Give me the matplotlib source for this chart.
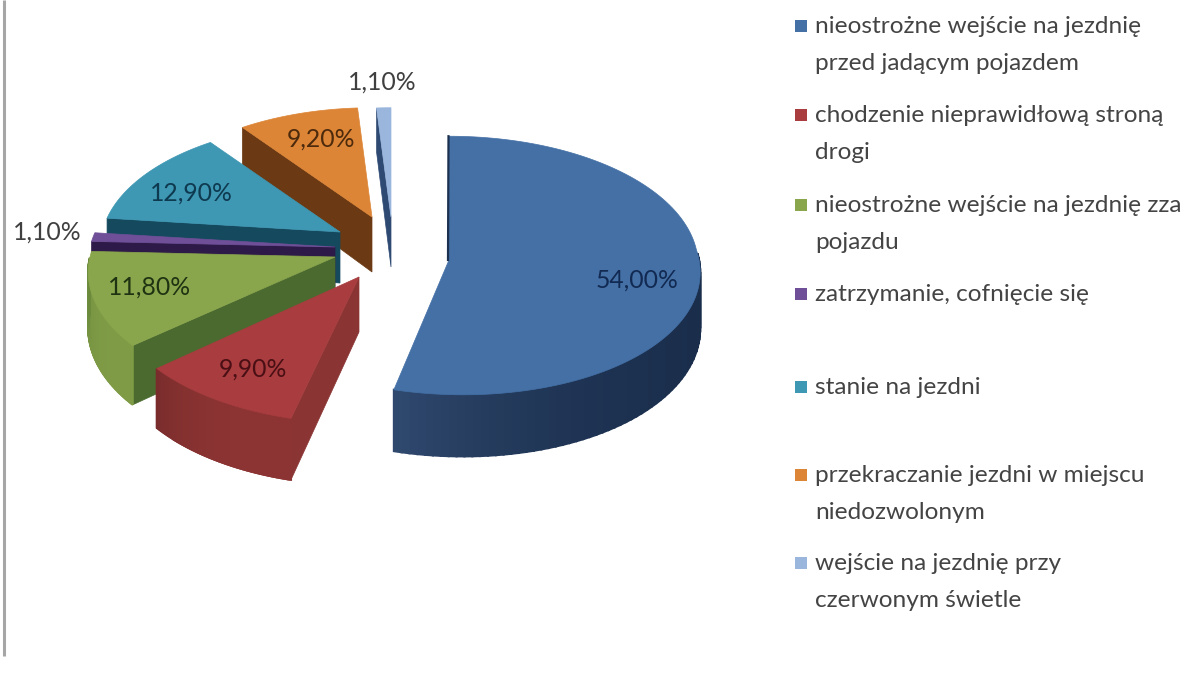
import numpy as np
import matplotlib
matplotlib.use("Agg")
import matplotlib.pyplot as plt
from matplotlib.patches import Rectangle
from matplotlib.colors import to_rgb

# dane wykresu
etykiety = ["nieostrożne wejście na jezdnię\nprzed jadącym pojazdem",
            "chodzenie nieprawidłową stroną\ndrogi",
            "nieostrożne wejście na jezdnię zza\npojazdu",
            "zatrzymanie, cofnięcie się",
            "stanie na jezdni",
            "przekraczanie jezdni w miejscu\nniedozwolonym",
            "wejście na jezdnię przy\nczerwonym świetle"]
wartosci = [54.0, 9.9, 11.8, 1.1, 12.9, 9.2, 1.1]

# kolory: wierzch, sciana (jasna, ciemna), przekroj, tekst
kol_gora = ["#4470a6", "#a83c3e", "#8aa64c", "#6f4f98", "#3e97b3", "#dd8536", "#9bb6dd"]
kol_sciana1 = ["#1a2e4c", "#8c3433", "#7f9b46", "#2e1a48", "#14495e", "#6e3a12", "#2a4468"]
kol_sciana2 = ["#30496f", "#7a2c2c", "#6a8a3c", "#2e1a48", "#14495e", "#6e3a12", "#2a4468"]
kol_przekroj = ["#1c3150", "#8a3433", "#4a6a30", "#2e1a48", "#14495e", "#6b3a14", "#2f4a72"]
kol_tekst = ["#122a52", "#4a0f14", "#1f3312", "#404040", "#0e3a50", "#4d2a0c", "#404040"]

# uklad w pikselach obrazka
wierzcholki = [(449, 260), (359, 277), (335, 257), (335, 247), (340, 232), (372, 217), (391, 217)]
srodki = [(449, 250), (359, 280), (335, 257), (335, 247), (340, 232), (372, 217), (391, 217)]
skale = [1.01, 1.0, 1.0, 1.0, 0.97, 0.97, 0.97]
glebokosci = [55, 55, 55, 50, 51, 55, 50]
przechyl = [14, 0, 0, 0, 0, 0, 0]
poz_opisow = [(637, 280), (253, 369), (149, 287), (47, 232), (191, 193), (321, 139), (382, 82)]
poz_legendy = [26, 115, 205, 294, 387, 475, 563]
RX, RY, P = 245, 128, 0.12


def brzeg(i, kat):
    # punkt na brzegu plasterka i jego lokalna glebokosc
    u, v = np.sin(kat), -np.cos(kat)
    f = (1 + P * v) * skale[i]
    x = srodki[i][0] + RX * u * f + przechyl[i] * np.maximum(v, 0)
    y = srodki[i][1] + RY * v * f
    return x, y, glebokosci[i] * (1 + P * v)


fig = plt.figure(figsize=(11.84, 6.79), dpi=100)
ax = fig.add_axes([0, 0, 1, 1])
ax.set_xlim(0, 1184)
ax.set_ylim(679, 0)
ax.axis("off")

# ramka z lewej
ax.plot([3.5, 3.5], [0, 656], color="#a6a6a6", lw=2.2, solid_capstyle="butt")

granice = np.cumsum([0] + wartosci) / 100 * 2 * np.pi

# od tylu do przodu
for i in [6, 5, 4, 3, 2, 1, 0]:
    a0, a1 = granice[i], granice[i + 1]
    tx, ty = wierzcholki[i]
    katy = np.linspace(a0, a1, 120)
    x, y, d = brzeg(i, katy)

    # przekroj od strony poczatku plasterka
    ax.fill([tx, x[0], x[0], tx], [ty, y[0], y[0] + d[0], ty + glebokosci[i]],
            color=kol_przekroj[i], lw=0.5, zorder=i * -3 + 30)

    # sciana zewnetrzna z gradientem
    w = np.where((katy >= np.pi / 2) & (katy <= 3 * np.pi / 2))[0]
    for n, k in zip(w[:-1], w[1:]):
        t = ((n - w[0]) / max(len(w) - 1, 1)) ** 3
        c = (1 - t) * np.array(to_rgb(kol_sciana1[i])) + t * np.array(to_rgb(kol_sciana2[i]))
        ax.fill([x[n], x[k], x[k], x[n]], [y[n], y[k], y[k] + d[k], y[n] + d[n]],
                color=c, lw=1.5, zorder=i * -3 + 31)

    # wierzch
    ax.fill(np.r_[tx, x], np.r_[ty, y], color=kol_gora[i], lw=0.5, zorder=i * -3 + 32)

    if i == 0:
        ax.plot([tx - 1, x[0] - 0.5], [ty, y[0]], color=kol_przekroj[0], lw=1.6, zorder=33)

# opisy wartosci
for i, v in enumerate(wartosci):
    ax.text(poz_opisow[i][0], poz_opisow[i][1], f"{v:.2f}".replace(".", ",") + "%",
            family="Lato", fontsize=17.8, color=kol_tekst[i], ha="center", va="center", zorder=50)

# legenda
for i, e in enumerate(etykiety):
    yl = poz_legendy[i]
    ax.add_patch(Rectangle((795, yl - 6), 12, 12, color=kol_gora[i], lw=0))
    ax.text(815, yl - 10, e, family="Lato", fontsize=17.6, color="#444444",
            ha="left", va="top", linespacing=1.93)

fig.savefig("out.png", dpi=100, facecolor="white")
